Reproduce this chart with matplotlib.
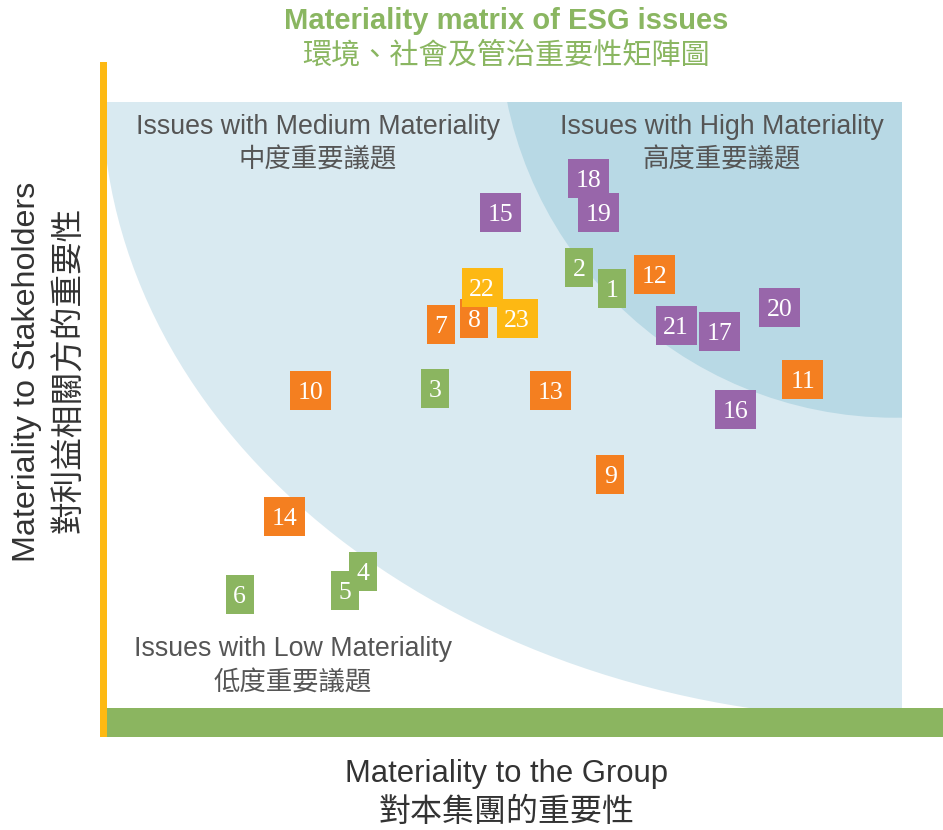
import matplotlib
matplotlib.use('Agg')
import matplotlib.pyplot as plt
from matplotlib.patches import Rectangle, Ellipse

plt.rcParams['font.family'] = ['Liberation Sans', 'Noto Sans CJK TC']

# ---- data: issue number, materiality to group (x), to stakeholders (y) ----
issue_ids = list(range(1, 24))
group_score = [6.35, 5.94, 4.13, 3.22, 2.99, 1.67, 4.20, 4.62, 6.33, 2.56, 8.75, 6.89,
               5.58, 2.23, 4.95, 7.91, 7.70, 6.06, 6.18, 8.46, 7.16, 4.72, 5.16]
stakeholder_score = [6.92, 7.27, 5.28, 2.25, 1.94, 1.88, 6.33, 6.43, 3.86, 5.24, 5.42, 7.15,
                     5.24, 3.16, 8.18, 4.93, 6.21, 8.74, 8.18, 6.61, 6.31, 6.94, 6.43]
issue_group = ['env'] * 6 + ['social'] * 8 + ['gov'] * 7 + ['other'] * 2

group_colors = {'env': '#8BB560', 'social': '#F47F20', 'gov': '#9866AA', 'other': '#FDB813'}

# ---- figure layout (pixels of a 943x830 canvas) ----
W, H = 943, 830


def fx(x):
    return x / W


def fy(y):
    return 1 - y / H


fig = plt.figure(figsize=(9.43, 8.30), dpi=100)
ax = fig.add_axes([fx(107), fy(708), 795 / W, 606 / H])
ax.set_xlim(0, 10)
ax.set_ylim(0, 10)
ax.axis('off')

# zones: medium (light) and high (dark) materiality
ax.add_patch(Ellipse((10.0, 10.12), 2 * 10.06, 2 * 10.31, facecolor='#D9EAF1', lw=0))
ax.add_patch(Ellipse((9.91, 11.32), 2 * 4.98, 2 * 6.53, facecolor='#B8D9E5', lw=0))

# issue boxes
box_w = {1: 0.352, 2: 0.516}
box_h = 0.644
for n, gx, sy, g in zip(issue_ids, group_score, stakeholder_score, issue_group):
    lab = str(n)
    w = box_w[len(lab)]
    ax.add_patch(Rectangle((gx - w / 2, sy - box_h / 2), w, box_h,
                           facecolor=group_colors[g], lw=0))
    # digits have no descenders, nudge down a bit so they sit centred
    ax.annotate(lab, (gx, sy), xytext=(0, -2), textcoords='offset points',
                ha='center', va='center', color='white',
                fontsize=18.5, family='Liberation Serif')

# axis bars
fig.add_artist(Rectangle((fx(100), fy(737)), 7 / W, (737 - 62) / H,
                         transform=fig.transFigure, color='#FDB913', lw=0))
fig.add_artist(Rectangle((fx(107), fy(737)), (943 - 107) / W, 29 / H,
                         transform=fig.transFigure, color='#8BB560', lw=0))

# titles
title_c = '#8AB661'
fig.text(fx(506), fy(21), 'Materiality matrix of ESG issues', ha='center', va='center',
         fontsize=21, fontweight='bold', color=title_c)
fig.text(fx(506), fy(56), '環境、社會及管治重要性矩陣圖', ha='center', va='center',
         fontsize=21, fontweight='medium', color=title_c)

# zone labels
zone_c = '#555555'
fig.text(fx(318), fy(127), 'Issues with Medium Materiality', ha='center', va='center',
         fontsize=19.3, color=zone_c)
fig.text(fx(318), fy(160), '中度重要議題', ha='center', va='center', fontsize=19, color=zone_c)
fig.text(fx(722), fy(127), 'Issues with High Materiality', ha='center', va='center',
         fontsize=19.3, color=zone_c)
fig.text(fx(722), fy(160), '高度重要議題', ha='center', va='center', fontsize=19, color=zone_c)
fig.text(fx(293), fy(649), 'Issues with Low Materiality', ha='center', va='center',
         fontsize=19.3, color=zone_c)
fig.text(fx(293), fy(683), '低度重要議題', ha='center', va='center', fontsize=19, color=zone_c)

# axis titles
lab_c = '#333333'
fig.text(fx(506), fy(774), 'Materiality to the Group', ha='center', va='center',
         fontsize=22.3, color=lab_c)
fig.text(fx(506), fy(813), '對本集團的重要性', ha='center', va='center',
         fontsize=23, color=lab_c)
fig.text(fx(27), fy(372), 'Materiality to Stakeholders', ha='center', va='center',
         fontsize=23.2, color=lab_c, rotation=90)
fig.text(fx(70), fy(370), '對利益相關方的重要性', ha='center', va='center',
         fontsize=23.5, color=lab_c, rotation=90)

fig.savefig('out.png', dpi=100)
